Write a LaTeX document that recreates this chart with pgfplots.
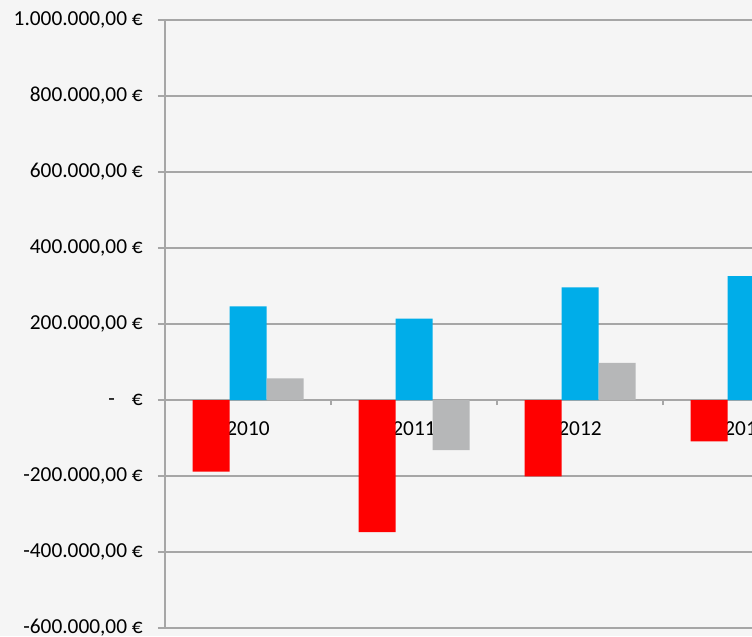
\documentclass[border=0pt]{standalone}
\usepackage{pgfplots}
\pgfplotsset{compat=1.18}
\usepackage{fontspec}
\setmainfont{Carlito}
\definecolor{bg}{HTML}{F5F5F5}
\definecolor{gridc}{HTML}{A6A6A6}
\definecolor{cred}{HTML}{FF0000}
\definecolor{cblue}{HTML}{00ADE9}
\definecolor{cgray}{HTML}{B6B7B8}
\begin{document}
\fontsize{16}{19}\selectfont
\begin{tikzpicture}
\fill[bg] (-123.75pt,-6pt) rectangle (440.25pt,471pt);
\useasboundingbox (-123.75pt,-6pt) rectangle (440.25pt,471pt);
\begin{axis}[
  at={(0,0)}, anchor=south west,
  scale only axis, width=440.25pt, height=456pt,
  xmin=-0.5, xmax=3.036, ymin=-600000, ymax=1000000,
  scaled y ticks=false,
  ybar=0pt, bar width=27.75pt,
  axis y line=left, axis x line=middle,
  axis line style={-, draw=gridc, line width=1.1pt},
  ytick={-600000,-400000,-200000,0,200000,400000,600000,800000,1000000},
  yticklabels={{-600.000,00 €},{-400.000,00 €},{-200.000,00 €},{-\hspace{0.8em}€},{200.000,00 €},{400.000,00 €},{600.000,00 €},{800.000,00 €},{1.000.000,00 €}},
  ymajorgrids, grid style={draw=gridc, line width=1.1pt},
  xtick={0,1,2,3}, xticklabels={2010,2011,2012,2013},
  minor xtick={0.5,1.5,2.5},
  tick align=outside,
  major tick length=5.25pt, minor tick length=3.75pt,
  tick style={draw=gridc, line width=1.1pt},
  major x tick style={draw=none},
  tick label style={font=\fontsize{16}{19}\selectfont, inner sep=0pt},
  yticklabel style={anchor=east, xshift=-11.25pt},
  xticklabel style={anchor=center, yshift=-16.1pt},
  every axis plot/.append style={draw=none},
]
\addplot[fill=cred] coordinates {(0,-188600) (1,-348000) (2,-201000) (3,-108700)};
\addplot[fill=cblue] coordinates {(0,246600) (1,214000) (2,296500) (3,326300)};
\addplot[fill=cgray] coordinates {(0,57000) (1,-132000) (2,97400)};
\end{axis}
\end{tikzpicture}
\end{document}
